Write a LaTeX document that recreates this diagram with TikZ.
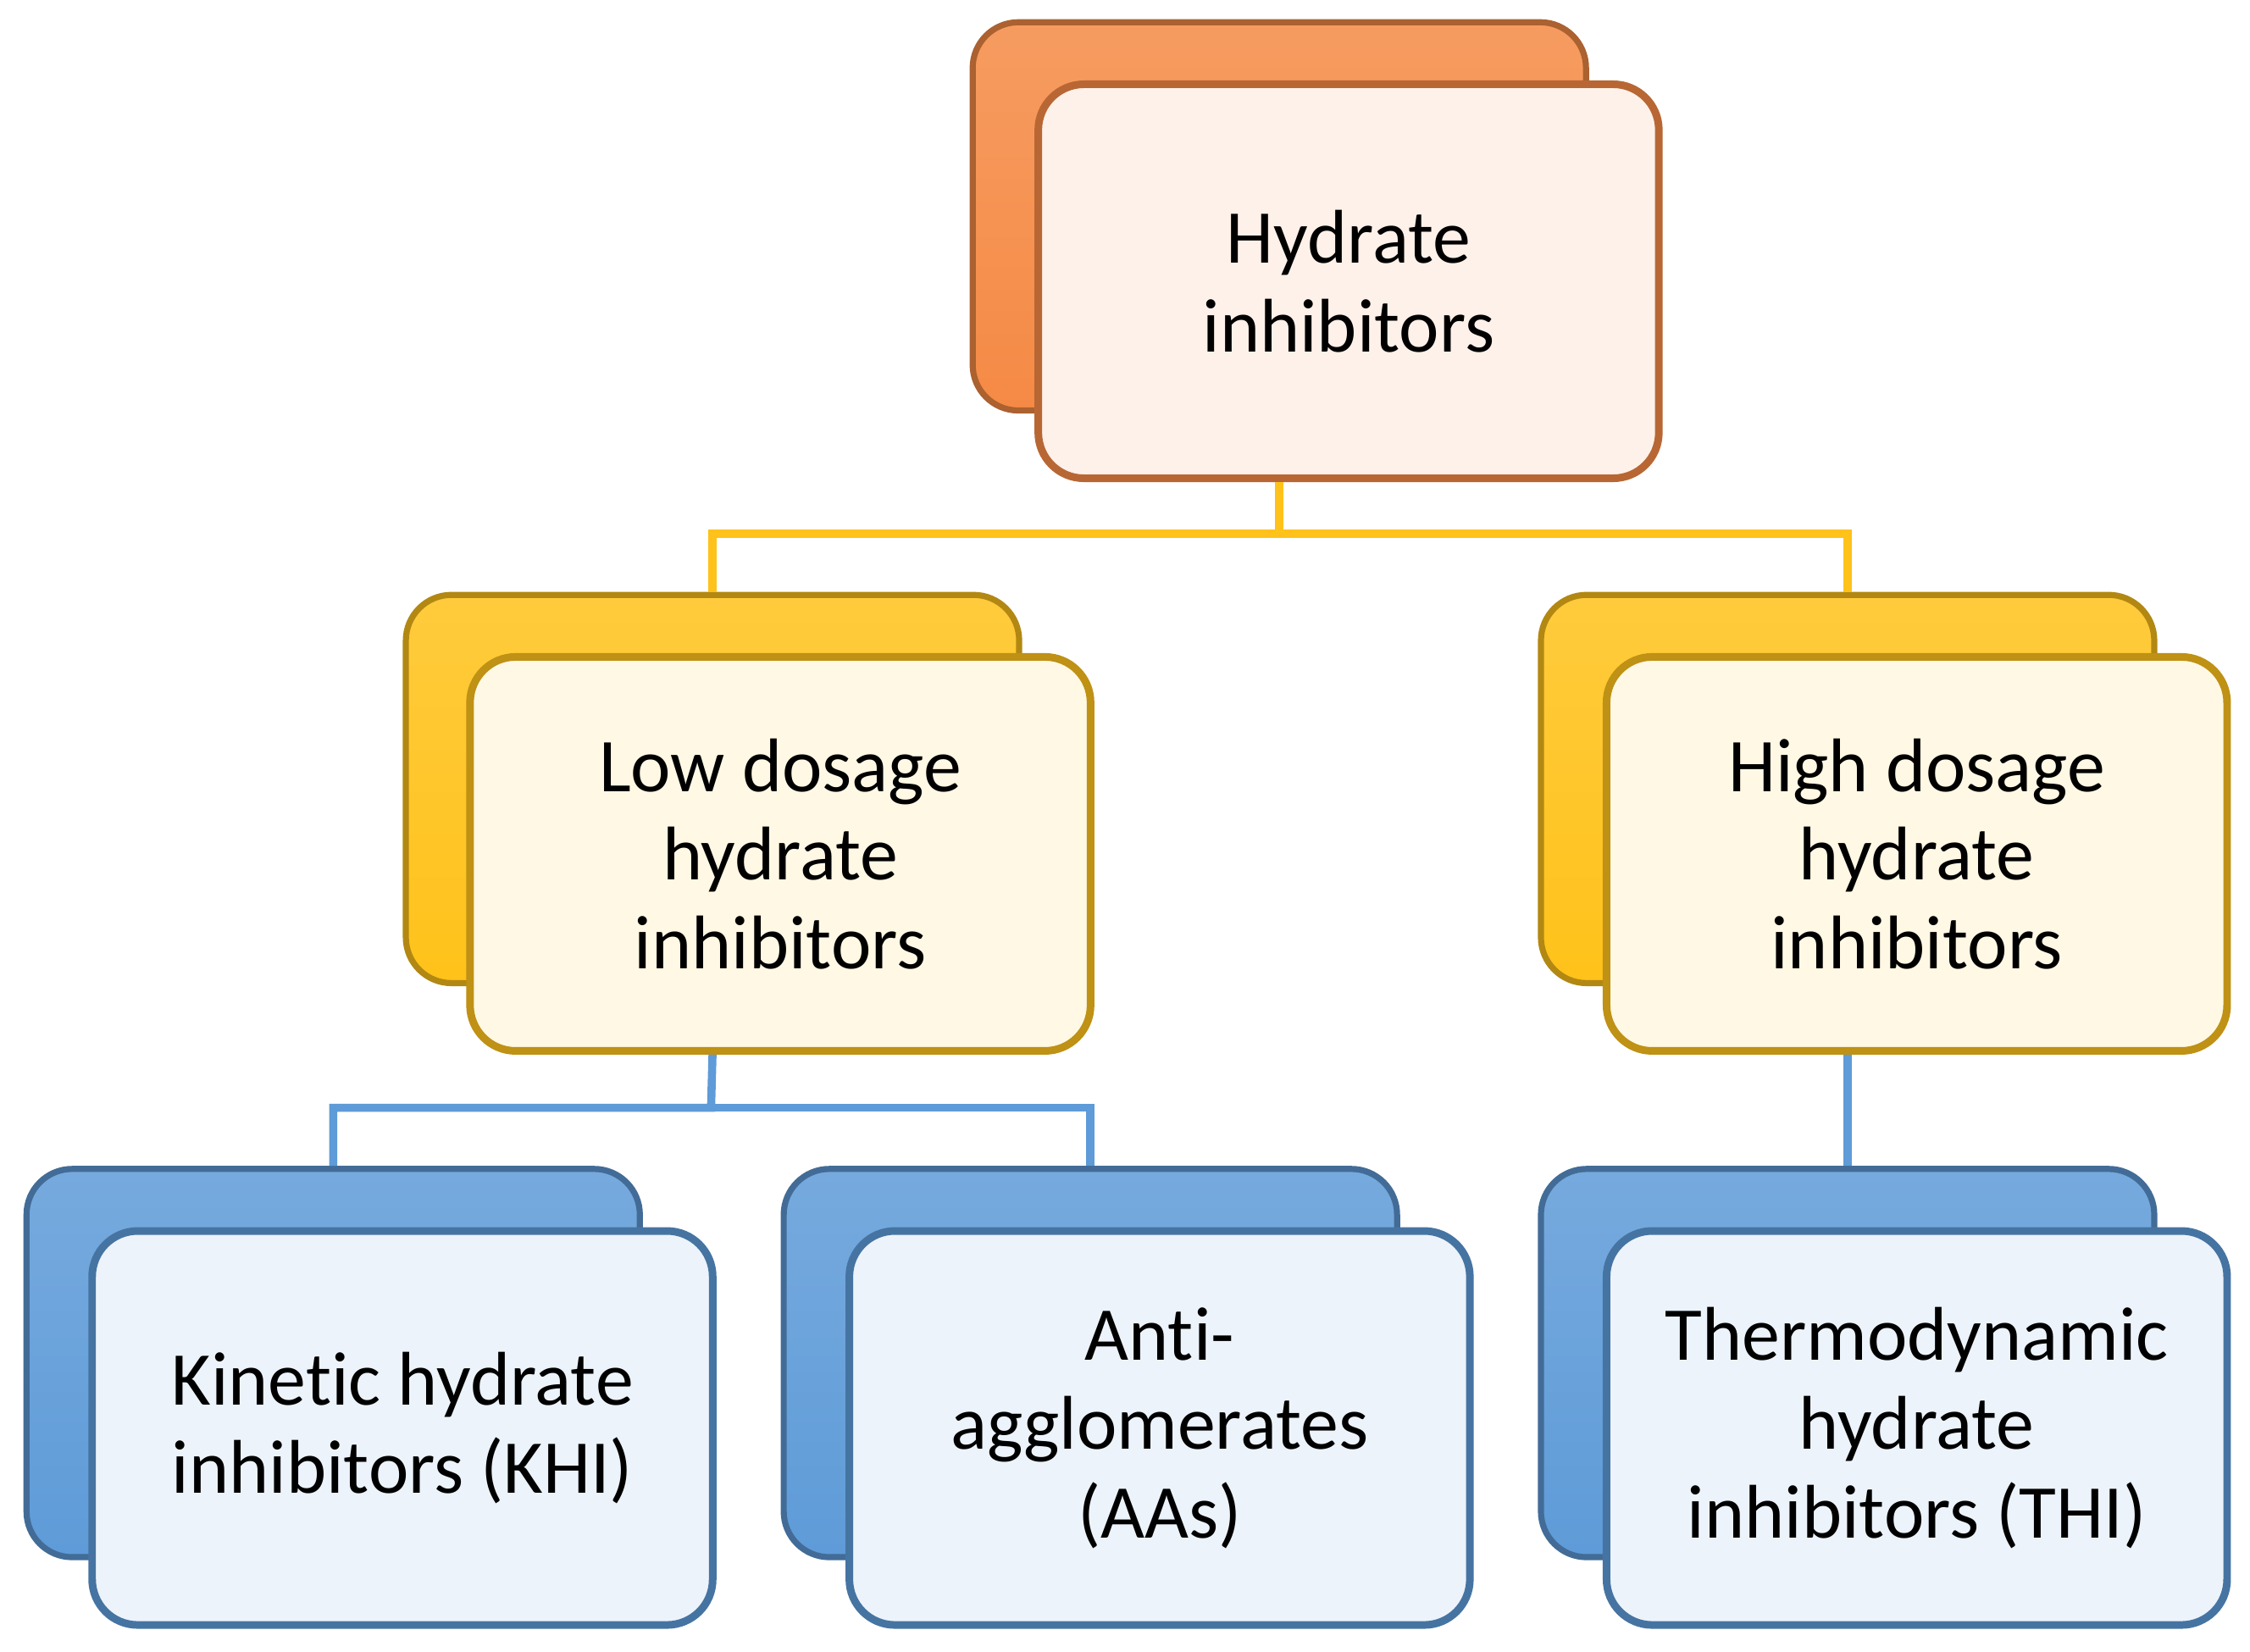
\documentclass[tikz,border=0pt]{standalone}
\usepackage{fontspec}
\setmainfont[Ligatures={NoCommon}]{Carlito}
\begin{document}
\begin{tikzpicture}[x=0.01cm,y=-0.01cm,
 back/.style={draw=#1!70!black,line width=1.2pt,rounded corners=9pt,top color=#1!85!white,bottom color=#1,minimum width=4.25cm,minimum height=2.69cm,inner sep=0pt},
 front/.style={draw=#1!75!black,line width=1.5pt,rounded corners=9pt,fill=#1!12!white,minimum width=4.30cm,minimum height=2.73cm,inner sep=0pt,align=center,font=\fontsize{15}{17.5}\selectfont},
 conn/.style={draw=#1,line width=1.6pt}]
\definecolor{org}{HTML}{F58A45}
\definecolor{gld}{HTML}{FFC21A}
\definecolor{blu}{HTML}{5E9BD8}
\useasboundingbox (0,0) rectangle (1560,1145);
\coordinate (j1) at (887,370);
\coordinate (j2) at (493,768);
% back boxes
\node[back=org] (tb) at (887,150) {};
\node[back=gld] (lb) at (494,547) {};
\node[back=gld] (rb) at (1281,547) {};
\node[back=blu] (kb) at (231,945) {};
\node[back=blu] (ab) at (756,945) {};
\node[back=blu] (tbb) at (1281,945) {};
% front boxes
\node[front=org] (top) at (935,195) {Hydrate\\inhibitors};
\node[front=gld] (low) at (541,592) {Low dosage\\hydrate\\inhibitors};
\node[front=gld] (high) at (1329,592) {High dosage\\hydrate\\inhibitors};
\node[front=blu] (khi) at (279,990) {Kinetic hydrate\\inhibitors (KHI)};
\node[front=blu] (aa) at (804,990) {Anti-\\agglomerates\\(AAs)};
\node[front=blu] (thi) at (1329,990) {Thermodynamic\\hydrate\\inhibitors (THI)};
\draw[conn=gld] (top.south -| tb.south) -- (j1) -| (lb.north);
\draw[conn=gld] (j1) -| (rb.north);
\draw[conn=blu] (low.south -| lb.south) -- (j2) -| (kb.north);
\draw[conn=blu] (j2) -| (ab.north);
\draw[conn=blu] (high.south -| rb.south) -- (tbb.north);
\end{tikzpicture}
\end{document}
